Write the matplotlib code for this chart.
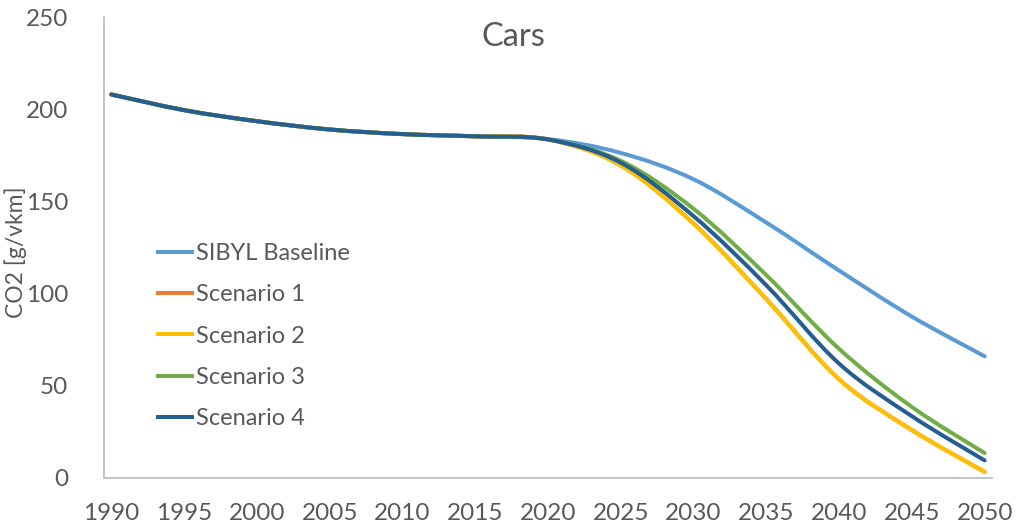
import numpy as np
import matplotlib
matplotlib.use("Agg")
import matplotlib.pyplot as plt
from matplotlib.path import Path
from matplotlib.patches import PathPatch
from matplotlib.lines import Line2D

# CO2 emission factor of the car fleet, g per vehicle-km
years = [1990, 1995, 2000, 2005, 2010, 2015, 2020, 2025, 2030, 2035, 2040, 2045, 2050]
baseline = [208, 199.5, 193.5, 189, 186.5, 185.3, 183.8, 176.3, 162, 138.5, 112.5, 87.5, 66]
scenario1 = [208, 199.5, 193.5, 189, 186.5, 185.3, 183.6, 169.5, 138, 97, 53.5, 26, 3.3]
scenario2 = [208, 199.5, 193.5, 189, 186.5, 185.3, 183.6, 169.5, 138, 97, 53.5, 26, 3.3]
scenario3 = [208, 199.5, 193.5, 189, 186.5, 185.3, 183.6, 172, 146, 110, 70, 38.5, 13.5]
scenario4 = [208, 199.5, 193.5, 189, 186.5, 185.3, 183.6, 171, 142, 104.5, 62, 33.5, 9.5]

series_names = ["SIBYL Baseline", "Scenario 1", "Scenario 2", "Scenario 3", "Scenario 4"]
series_values = [baseline, scenario1, scenario2, scenario3, scenario4]
series_colors = ["#5B9BD5", "#ED7D31", "#FFC000", "#70AD47", "#255E91"]

x_ticks = list(range(1990, 2051, 5))
y_ticks = [0, 50, 100, 150, 200, 250]

TEXT = "#595959"
plt.rcParams["font.family"] = ["Lato", "DejaVu Sans"]


def smooth_path(xs, ys, tension=1 / 6):
    """Catmull-Rom style cubic Bezier path through the points."""
    xs = np.asarray(xs, float)
    ys = np.asarray(ys, float)
    pts = np.column_stack([xs, ys])
    n = len(pts)
    verts = [pts[0]]
    codes = [Path.MOVETO]
    for i in range(n - 1):
        p0 = pts[i - 1] if i > 0 else pts[i]
        p1 = pts[i]
        p2 = pts[i + 1]
        p3 = pts[i + 2] if i + 2 < n else pts[i + 1]
        c1 = p1 + (p2 - p0) * tension
        c2 = p2 - (p3 - p1) * tension
        verts += [c1, c2, p2]
        codes += [Path.CURVE4] * 3
    return Path(verts, codes)


fig = plt.figure(figsize=(10.17, 5.27), dpi=100)
ax = fig.add_axes([0.1023, 0.093, 0.8731, 0.8747])

lw = 2.9
for name, vals, col in zip(series_names, series_values, series_colors):
    patch = PathPatch(smooth_path(years, vals), facecolor="none", edgecolor=col,
                      lw=lw, capstyle="round", joinstyle="round")
    ax.add_patch(patch)

ax.set_xlim(1989.5, 2050.5)
ax.set_ylim(0, 250)
ax.set_xticks(x_ticks)
ax.set_yticks(y_ticks)
ax.tick_params(axis="both", length=0, labelsize=17.5, colors=TEXT)
ax.tick_params(axis="y", pad=26)
ax.tick_params(axis="x", pad=18)

for side in ("top", "right"):
    ax.spines[side].set_visible(False)
for side in ("left", "bottom"):
    ax.spines[side].set_color("#BFBFBF")
    ax.spines[side].set_linewidth(1.3)

fig.text(16 / 1017, 1 - 252 / 527, "CO2 [g/vkm]", fontsize=16.5, color=TEXT,
         rotation=90, ha="center", va="center")

fig.text(0.505, 0.93, "Cars", fontsize=23.5, color=TEXT, ha="center", va="center")

handles = [Line2D([], [], color=c, lw=lw) for c in series_colors]
leg = ax.legend(handles, series_names, loc="upper left", bbox_to_anchor=(0.05, 0.53),
                frameon=False, fontsize=17, handlelength=1.45, handletextpad=0.15,
                labelspacing=0.86, borderaxespad=0)
for t in leg.get_texts():
    t.set_color(TEXT)

fig.savefig("out.png", dpi=100, facecolor="white")
